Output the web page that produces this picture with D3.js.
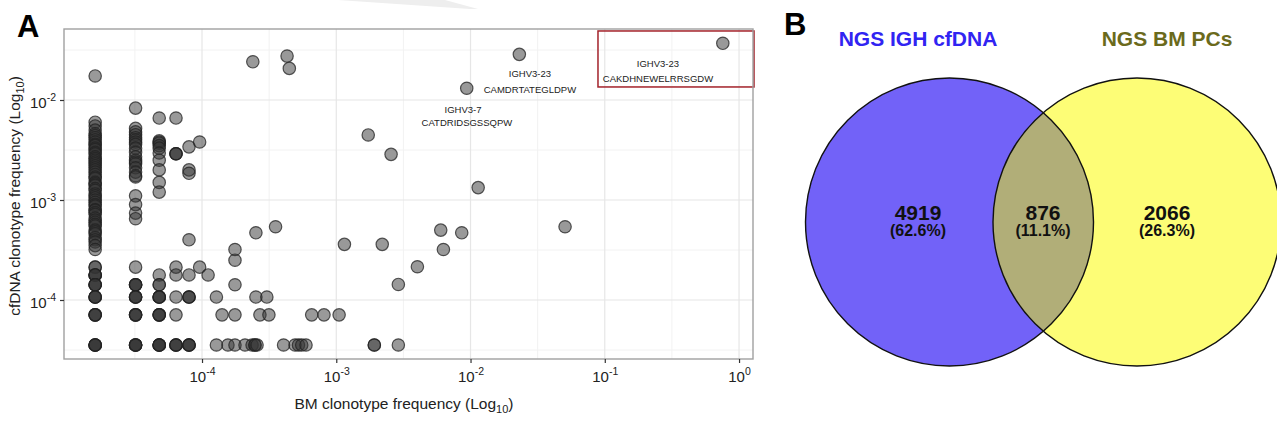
<!DOCTYPE html>
<html><head><meta charset="utf-8">
<script src="https://cdn.jsdelivr.net/npm/d3@7"></script>
<style>
body{margin:0;background:#fff;}
svg{display:block;font-family:"Liberation Sans",Arial,Helvetica,sans-serif;}
</style>
</head><body>
<svg id="chart" width="1277" height="430"></svg>
<script>
// ---------------- DATA ----------------
// Panel A: BM clonotype frequency (x) vs cfDNA clonotype frequency (y)
const r1 = 3.55e-5, r2 = 7.1e-5, r3 = 1.07e-4, r4 = 1.42e-4, r5 = 1.78e-4, r6 = 2.13e-4;

// low-frequency BM columns (discrete values)
const bmColumnFreq = [1.6e-5, 3.2e-5, 4.8e-5, 6.4e-5, 8.0e-5, 9.6e-5];
const cfByColumn = [
  [0.0174, 6.0e-3, 5.5e-3, 5.0e-3, 4.6e-3, 4.4e-3, 4.2e-3, 4.0e-3, 3.8e-3, 3.6e-3, 3.5e-3, 3.3e-3, 3.2e-3, 3.0e-3, 2.9e-3,
   2.7e-3, 2.6e-3, 2.5e-3, 2.4e-3, 2.3e-3, 2.2e-3, 2.1e-3, 2.0e-3, 1.9e-3, 1.8e-3, 1.7e-3, 1.65e-3, 1.5e-3, 1.45e-3, 1.4e-3, 1.3e-3,
   1.25e-3, 1.15e-3, 1.1e-3, 1.05e-3, 1.0e-3, 9.5e-4, 9.0e-4, 8.7e-4, 8.0e-4, 7.9e-4, 7.5e-4, 7.2e-4, 6.6e-4, 6.3e-4, 6.0e-4,
   5.7e-4, 5.5e-4, 5.0e-4, 4.8e-4, 4.6e-4, 4.2e-4, 4.0e-4, 3.8e-4, 3.5e-4, 3.2e-4,
   r6, r6, r5, r5, r5, r5, r4, r4, r4, r4, r3, r3, r3, r3, r2, r2, r2, r2, r1, r1, r1, r1, r1],
  [8.3e-3, 5.2e-3, 4.8e-3, 4.5e-3, 4.2e-3, 4.0e-3, 3.8e-3, 3.6e-3, 3.3e-3, 3.0e-3, 2.7e-3, 2.5e-3, 2.4e-3, 2.3e-3,
   2.1e-3, 1.9e-3, 1.75e-3, 1.7e-3, 1.1e-3, 9.0e-4, 7.4e-4, 6.5e-4,
   r6, r4, r4, r4, r4, r3, r3, r3, r3, r2, r2, r2, r2, r1, r1, r1, r1, r1],
  [6.6e-3, 3.9e-3, 3.8e-3, 3.7e-3, 3.5e-3, 3.3e-3, 2.95e-3, 2.5e-3, 2.0e-3, 1.5e-3, 1.2e-3,
   r5, r4, r4, r3, r3, r3, r3, r2, r2, r2, r2, r1, r1, r1, r1, r1],
  [6.6e-3, 2.9e-3, 2.9e-3, 2.9e-3, r6, r5, r3, r2, r1, r1, r1, r1],
  [3.4e-3, 2.0e-3, 1.85e-3, 4.0e-4, r5, r3, r3, r3, r1, r1, r1, r1],
  [3.8e-3, r6]
];

// remaining clonotypes
const bmOther = [1.11e-4, 1.28e-4, 1.28e-4, 1.41e-4, 1.56e-4,
  1.76e-4, 1.76e-4, 1.76e-4, 1.76e-4, 1.76e-4,
  2.09e-4, 2.36e-4, 2.48e-4, 2.48e-4, 2.57e-4, 2.52e-4, 2.52e-4, 2.39e-4,
  2.70e-4, 3.04e-4, 3.15e-4, 3.53e-4, 4.05e-4, 4.30e-4, 4.47e-4,
  4.93e-4, 5.23e-4, 5.53e-4, 5.95e-4, 6.56e-4, 8.1e-4, 1.05e-3, 1.15e-3,
  1.73e-3, 1.92e-3, 1.92e-3, 2.2e-3, 2.56e-3, 2.9e-3, 2.9e-3,
  4.02e-3, 6.0e-3, 6.28e-3, 8.6e-3, 9.37e-3, 1.14e-2, 0.0231, 0.0506, 0.757];
const cfOther = [r5, r3, r1, r2, r1,
  3.2e-4, 2.5e-4, r4, r2, r1,
  r1, r1, r1, r1, r1, 4.7e-4, r3, 0.0241,
  r2, r3, r2, 5.4e-4, r1, 0.0275, 0.0207,
  r1, r1, r1, r1, r2, r2, r2, 3.6e-4,
  4.47e-3, r1, r1, 3.6e-4, 2.86e-3, r1, 1.43e-4,
  2.15e-4, 5.0e-4, 3.2e-4, 4.7e-4, 0.0131, 1.33e-3, 0.0286, 5.4e-4, 0.0369];

const xTickValues = [1e-4, 1e-3, 1e-2, 1e-1, 1];
const xTickExp = ["-4", "-3", "-2", "-1", "0"];
const yTickValues = [1e-4, 1e-3, 1e-2];
const yTickExp = ["-4", "-3", "-2"];

// annotation labels (position in data units)
const labelText = ["IGHV3-23", "CAMDRTATEGLDPW", "IGHV3-7", "CATDRIDSGSSQPW", "IGHV3-23", "CAKDHNEWELRRSGDW"];
const labelBM = [0.0277, 0.0277, 8.79e-3, 9.4e-3, 0.249, 0.249];
const labelCF = [0.0170, 0.01175, 7.4e-3, 5.5e-3, 0.0214, 0.0151];
const highlightBox = [0.089, 0.0135, 0.049]; // BM left, CF bottom, CF top

// Panel B: Venn
const vennNames = ["NGS IGH cfDNA", "NGS BM PCs"];
const vennCounts = [4919, 876, 2066];
const vennPct = ["(62.6%)", "(11.1%)", "(26.3%)"];

// ---------------- DRAW ----------------
const svg = d3.select("#chart");

// faint watermark shape at top
svg.append("polygon").attr("points", "338,0 445,0 478,9 470,9").attr("fill", "#eeeeee");

// panel A
const L = 64, R = 753, T = 29, B = 359;
const x = d3.scaleLog().domain([Math.pow(10, -5.028), Math.pow(10, 0.104)]).range([L, R]);
const y = d3.scaleLog().domain([Math.pow(10, -4.59), Math.pow(10, -1.29)]).range([B, T]);

const xMinor = [-4.5, -3.5, -2.5, -1.5, -0.5].map(e => Math.pow(10, e));
const yMinor = [-4.5, -3.5, -2.5, -1.5].map(e => Math.pow(10, e));

const grid = svg.append("g");
grid.selectAll(".xm").data(xMinor).join("line").attr("class", "xm")
  .attr("x1", d => x(d)).attr("x2", d => x(d)).attr("y1", T).attr("y2", B)
  .attr("stroke", "#f2f2f2").attr("stroke-width", 1);
grid.selectAll(".ym").data(yMinor).join("line").attr("class", "ym")
  .attr("y1", d => y(d)).attr("y2", d => y(d)).attr("x1", L).attr("x2", R)
  .attr("stroke", "#f2f2f2").attr("stroke-width", 1);
grid.selectAll(".xM").data(xTickValues).join("line").attr("class", "xM")
  .attr("x1", d => x(d)).attr("x2", d => x(d)).attr("y1", T).attr("y2", B)
  .attr("stroke", "#e6e6e6").attr("stroke-width", 1.2);
grid.selectAll(".yM").data(yTickValues).join("line").attr("class", "yM")
  .attr("y1", d => y(d)).attr("y2", d => y(d)).attr("x1", L).attr("x2", R)
  .attr("stroke", "#e6e6e6").attr("stroke-width", 1.2);

// points
const pts = [];
bmColumnFreq.forEach((bx, i) => cfByColumn[i].forEach(cy => pts.push([bx, cy])));
bmOther.forEach((bx, i) => pts.push([bx, cfOther[i]]));

svg.append("g").selectAll("circle").data(pts).join("circle")
  .attr("cx", d => x(d[0])).attr("cy", d => y(d[1])).attr("r", 6.2)
  .attr("fill", "#333").attr("fill-opacity", 0.5)
  .attr("stroke", "#222").attr("stroke-opacity", 0.75).attr("stroke-width", 1.2);

// highlight box
svg.append("rect")
  .attr("x", x(highlightBox[0])).attr("y", y(highlightBox[2]))
  .attr("width", R + 1 - x(highlightBox[0])).attr("height", y(highlightBox[1]) - y(highlightBox[2]))
  .attr("fill", "none").attr("stroke", "#a3222a").attr("stroke-width", 1.5);

// labels
svg.append("g").selectAll("text").data(labelText).join("text")
  .attr("x", (d, i) => x(labelBM[i])).attr("y", (d, i) => y(labelCF[i]))
  .attr("text-anchor", "middle").attr("font-size", 9.5).attr("fill", "#222").text(d => d);

// panel border
svg.append("rect").attr("x", L).attr("y", T).attr("width", R - L).attr("height", B - T)
  .attr("fill", "none").attr("stroke", "#a0a0a0").attr("stroke-width", 1.4);

// axes
const gx = svg.append("g").attr("transform", `translate(0,${B})`)
  .call(d3.axisBottom(x).tickValues(xTickValues).tickSize(4).tickFormat(""));
gx.select(".domain").remove();
gx.selectAll(".tick line").attr("stroke", "#333").attr("stroke-width", 1.2);
gx.selectAll(".tick text").each(function (d, i) {
  const t = d3.select(this).attr("y", 23).attr("dy", null).attr("fill", "#222")
    .attr("font-size", 15).attr("text-anchor", "middle").attr("font-family", null);
  t.append("tspan").text("10");
  t.append("tspan").attr("dy", -7).attr("font-size", 10.5).text(xTickExp[i]);
});

const gy = svg.append("g").attr("transform", `translate(${L},0)`)
  .call(d3.axisLeft(y).tickValues(yTickValues).tickSize(4).tickFormat(""));
gy.select(".domain").remove();
gy.selectAll(".tick line").attr("stroke", "#333").attr("stroke-width", 1.2);
gy.selectAll(".tick text").each(function (d, i) {
  const t = d3.select(this).attr("x", -8).attr("y", 7.5).attr("dy", null).attr("fill", "#222")
    .attr("font-size", 15).attr("text-anchor", "end").attr("font-family", null);
  t.append("tspan").text("10");
  t.append("tspan").attr("dy", -7).attr("font-size", 10.5).text(yTickExp[i]);
});

// axis titles
const xt = svg.append("text").attr("x", 404).attr("y", 409).attr("text-anchor", "middle")
  .attr("font-size", 15.5).attr("fill", "#222");
xt.append("tspan").text("BM clonotype frequency (Log");
xt.append("tspan").attr("dy", 4).attr("font-size", 11).text("10");
xt.append("tspan").attr("dy", -4).text(")");

const yt = svg.append("text").attr("transform", "translate(19.5,196) rotate(-90)")
  .attr("text-anchor", "middle").attr("font-size", 15.5).attr("fill", "#222");
yt.append("tspan").text("cfDNA clonotype frequency (Log");
yt.append("tspan").attr("dy", 4).attr("font-size", 11).text("10");
yt.append("tspan").attr("dy", -4).text(")");

// panel letters
svg.append("text").attr("x", 17).attr("y", 37).attr("font-size", 31).attr("font-weight", "bold").text("A");
svg.append("text").attr("x", 784).attr("y", 35).attr("font-size", 31).attr("font-weight", "bold").text("B");

// ---------------- Panel B: Venn ----------------
const vr = 144, cy0 = 222, c1x = 949.5, c2x = 1137;
const defs = svg.append("defs");
defs.append("clipPath").attr("id", "clipL").append("circle").attr("cx", c1x).attr("cy", cy0).attr("r", vr);

svg.append("circle").attr("cx", c1x).attr("cy", cy0).attr("r", vr).attr("fill", "#7262f8");
svg.append("circle").attr("cx", c2x).attr("cy", cy0).attr("r", vr).attr("fill", "#fdfd76");
svg.append("circle").attr("cx", c2x).attr("cy", cy0).attr("r", vr).attr("fill", "#b1ae78").attr("clip-path", "url(#clipL)");
svg.append("circle").attr("cx", c1x).attr("cy", cy0).attr("r", vr).attr("fill", "none").attr("stroke", "#111").attr("stroke-width", 1.4);
svg.append("circle").attr("cx", c2x).attr("cy", cy0).attr("r", vr).attr("fill", "none").attr("stroke", "#111").attr("stroke-width", 1.4);

const vennTitleX = [918, 1167];
const vennTitleColor = ["#3124f2", "#6b6a1c"];
svg.selectAll(".vt").data(vennNames).join("text").attr("class", "vt")
  .attr("x", (d, i) => vennTitleX[i]).attr("y", 46).attr("text-anchor", "middle")
  .attr("font-size", 21).attr("font-weight", "bold").attr("fill", (d, i) => vennTitleColor[i]).text(d => d);

const regionX = [918, 1043, 1167];
svg.selectAll(".vc").data(vennCounts).join("text").attr("class", "vc")
  .attr("x", (d, i) => regionX[i]).attr("y", 220).attr("text-anchor", "middle")
  .attr("font-size", 21).attr("font-weight", "bold").attr("fill", "#111").text(d => d);
svg.selectAll(".vp").data(vennPct).join("text").attr("class", "vp")
  .attr("x", (d, i) => regionX[i]).attr("y", 236).attr("text-anchor", "middle")
  .attr("font-size", 16).attr("font-weight", "bold").attr("fill", "#111").text(d => d);
</script>
</body></html>
